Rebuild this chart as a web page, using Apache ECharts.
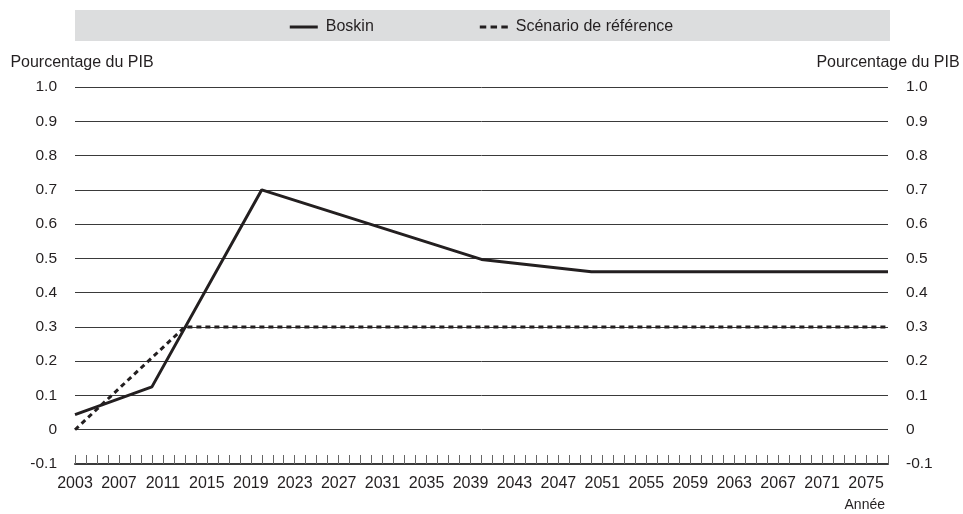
<!DOCTYPE html>
<html>
<head>
<meta charset="utf-8">
<script src="https://cdn.jsdelivr.net/npm/echarts@6/dist/echarts.min.js"></script>
<style>
html,body{margin:0;padding:0;background:#fff;}
#chart{width:963px;height:514px;}
</style>
</head>
<body>
<div id="chart"></div>
<script>
// Data
const years = [];
for (let y = 2003; y <= 2077; y++) years.push(String(y));
const boskinPoints = [
  ['2003', 0.044], ['2010', 0.125], ['2020', 0.70], ['2040', 0.497], ['2050', 0.461], ['2077', 0.461]
];
const referencePoints = [
  ['2003', 0.0], ['2013', 0.30], ['2077', 0.30]
];
const seriesNames = ['Boskin', 'Scénario de référence'];
const yAxisName = 'Pourcentage du PIB';
const xAxisName = 'Année';

const FONT = '"Liberation Sans", Arial, sans-serif';
const TXT = '#231f20';

function fmt(v) {
  const r = Math.round(v * 10) / 10;
  if (r === 0) return '0';
  return r.toFixed(1);
}

const chart = echarts.init(document.getElementById('chart'), null, {renderer: 'canvas'});

const yAxisCommon = {
  type: 'value',
  min: -0.1,
  max: 1.0,
  interval: 0.1,
  name: yAxisName,
  nameLocation: 'end',
  nameGap: 16,
  axisLine: {show: false},
  axisTick: {show: false},
  axisLabel: {color: TXT, fontFamily: FONT, fontSize: 15.5, margin: 18, formatter: fmt},
  splitLine: {show: true, lineStyle: {color: '#3a3a3a', width: 1}}
};

chart.setOption({
  animation: false,
  backgroundColor: '#ffffff',
  graphic: [
    {type: 'rect', left: 75, top: 10, shape: {width: 815, height: 31}, style: {fill: '#dcddde'}, z: -1},
    {type: 'text', right: 78, top: 498, style: {text: xAxisName, fill: TXT, font: '14px ' + FONT}}
  ],
  legend: {
    top: 14,
    left: 'center',
    itemWidth: 28,
    itemHeight: 14,
    itemGap: 106,
    textStyle: {color: TXT, fontFamily: FONT, fontSize: 16, padding: [0, 0, 0, 3]},
    data: [
      {name: seriesNames[0], icon: 'path://M0,0 L28,0 L28,3 L0,3 Z'},
      {name: seriesNames[1], icon: 'path://M0,0h6v3h-6z M10,0h6v3h-6z M20,0h6v3h-6z'}
    ]
  },
  grid: {left: 75, right: 75, top: 87, bottom: 50, containLabel: false, outerBoundsMode: 'none'},
  xAxis: {
    type: 'category',
    data: years,
    boundaryGap: false,
    axisLine: {show: true, onZero: false, lineStyle: {color: '#3a3a3a', width: 2}},
    axisTick: {show: true, inside: true, interval: 0, length: 9, lineStyle: {color: '#666', width: 1}},
    axisLabel: {interval: function (i) { return i % 4 === 0; }, color: TXT, fontFamily: FONT, fontSize: 16, margin: 12},
    splitLine: {show: false}
  },
  yAxis: [
    Object.assign({}, yAxisCommon, {position: 'left', nameTextStyle: {color: TXT, fontFamily: FONT, fontSize: 16, padding: [0, 0, 0, 14]}}),
    Object.assign({}, yAxisCommon, {position: 'right', splitLine: {show: false}, nameTextStyle: {color: TXT, fontFamily: FONT, fontSize: 16, padding: [0, 0, 0, 0]}})
  ],
  series: [
    {
      name: seriesNames[0],
      type: 'line',
      data: boskinPoints,
      showSymbol: false,
      symbol: 'none',
      lineStyle: {color: '#231f20', width: 3},
      itemStyle: {color: '#231f20'},
      z: 3
    },
    {
      name: seriesNames[1],
      type: 'line',
      data: referencePoints,
      showSymbol: false,
      symbol: 'none',
      lineStyle: {color: '#231f20', width: 3, type: [5, 4]},
      itemStyle: {color: '#231f20'},
      z: 2
    }
  ]
});
</script>
</body>
</html>
